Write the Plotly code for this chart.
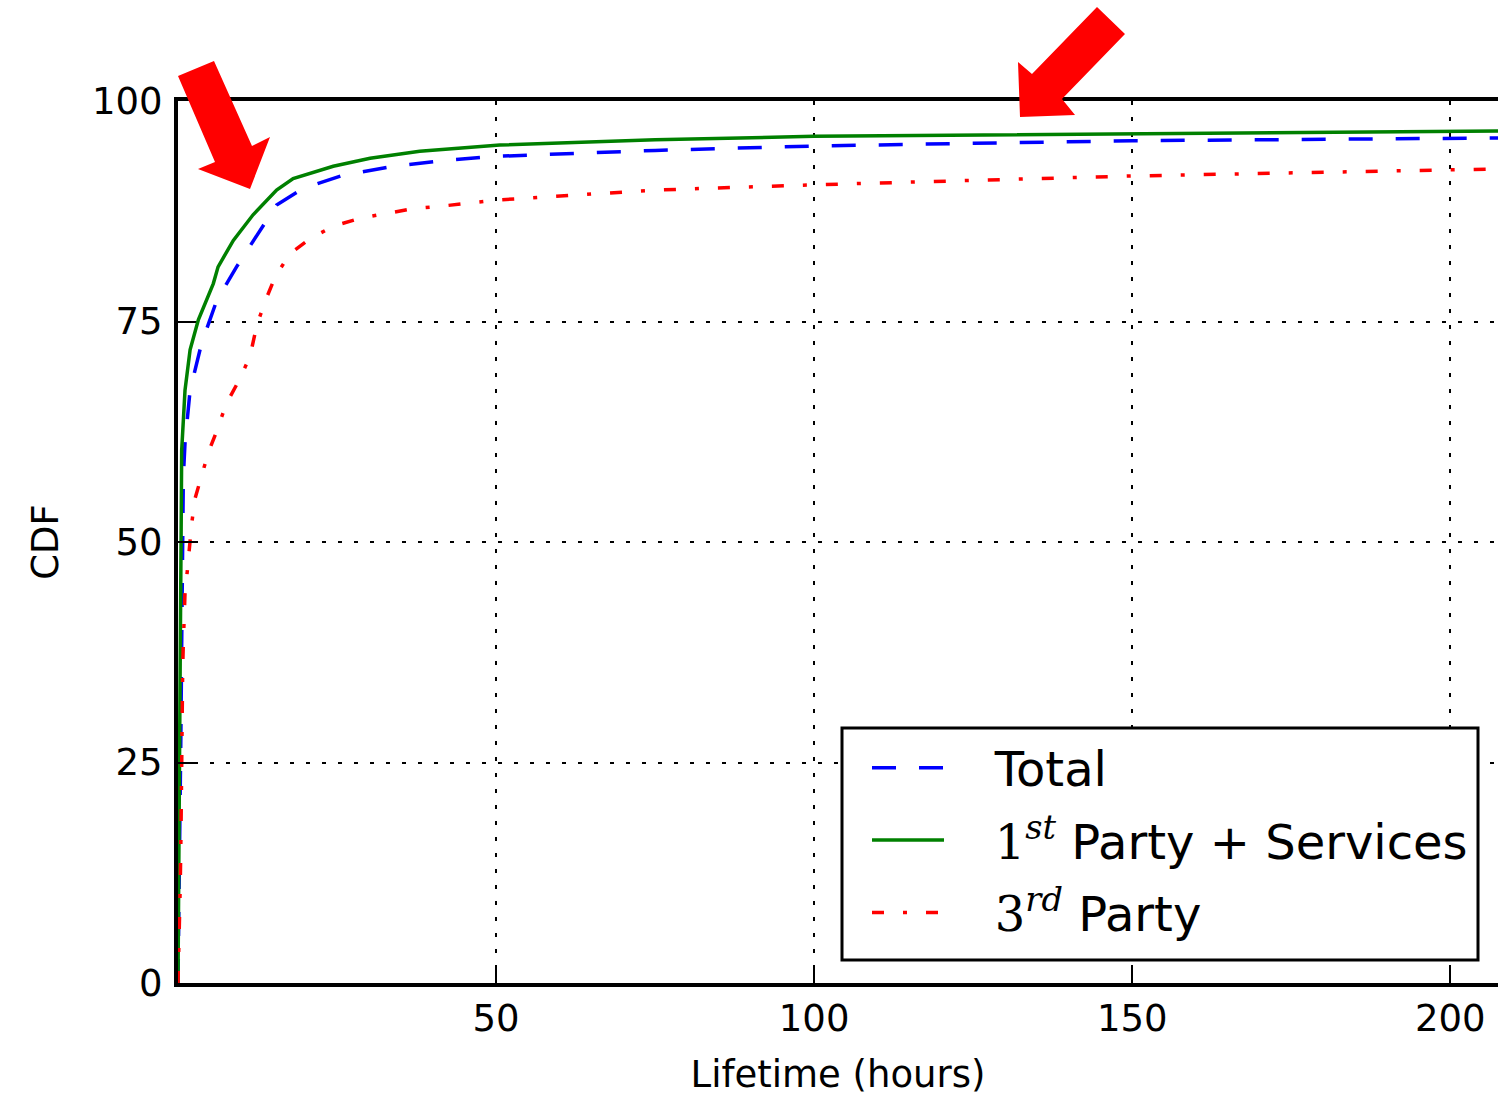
import plotly.graph_objects as go

# ---- data ----
total_x = [0, 0.15, 0.3, 0.45, 0.6, 0.74, 0.84, 1.1, 1.9, 3.7, 6.1, 9.2, 11.3, 13.9, 15.5, 19.7, 26, 33.9, 41.2, 49, 75, 100, 150, 207.5]
total_y = [0, 8, 18, 28, 40, 52.1, 57.4, 61.2, 67.2, 72.5, 77.4, 81.2, 83.5, 86.5, 88.2, 90.1, 91.6, 92.6, 93.2, 93.7, 94.4, 94.9, 95.5, 95.8]

first_x = [0, 0.1, 0.2, 0.3, 0.4, 0.5, 0.58, 1.1, 1.9, 3.2, 5.55, 6.3, 8.7, 11.8, 15.5, 18.1, 24.4, 30.2, 38, 50.6, 75, 100, 150, 207.5]
first_y = [0, 8, 20, 32, 42, 52, 60.4, 67.2, 71.8, 75.2, 79.3, 81.2, 84.2, 87.1, 89.9, 91.2, 92.6, 93.5, 94.3, 95.0, 95.6, 96.0, 96.3, 96.6]

third_x = [0, 0.2, 0.35, 0.47, 0.52, 0.58, 0.68, 0.74, 0.84, 0.94, 1.1, 1.46, 1.8, 2.15, 2.7, 3.7, 4.8, 6.1, 7.6, 9.5, 11.3, 12.4, 13.7, 15.3, 17.6, 20.8, 24.4, 28.6, 33.3, 37, 41.7, 50.6, 75, 100, 150, 207.5]
third_y = [0, 5, 11, 17, 22.3, 27.9, 33.2, 35.9, 38.5, 41.3, 44.2, 46.7, 49.5, 52.1, 55.0, 57.6, 60.2, 62.6, 65.7, 68.2, 71.0, 74.6, 77.3, 80.1, 82.7, 84.4, 85.8, 86.7, 87.3, 87.8, 88.1, 88.8, 89.9, 90.5, 91.5, 92.3]

x_ticks = [50, 100, 150, 200]
y_ticks = [0, 25, 50, 75, 100]

SP = "&nbsp;&nbsp;&nbsp;"
names = [
    SP + "Total",
    SP + "<span style='font-family:DejaVu Serif'>1</span><sup><i style='font-family:DejaVu Serif'>st</i></sup> Party + Services",
    SP + "<span style='font-family:DejaVu Serif'>3</span><sup><i style='font-family:DejaVu Serif'>rd</i></sup> Party",
]

W, H = 1498, 1096
L, T = 178, 101
PW, PH = 1320, 882
R = W - L - PW
B = H - T - PH

PLOT_LEFT, PLOT_BOTTOM = L, T + PH  # page pixel coordinates of the plot area


def px2paper(pts):
    return [((x - PLOT_LEFT) / PW, (PLOT_BOTTOM - y) / PH) for x, y in pts]


def path(pts):
    p = px2paper(pts)
    return "M " + " L ".join(f"{a:.5f},{b:.5f}" for a, b in p) + " Z"


arrow1 = [(178, 76), (214, 61), (252, 146), (270, 137), (250, 189), (198, 169), (215, 162)]
arrow2 = [(1097, 7), (1125, 34), (1062, 99), (1075, 115), (1020, 117), (1018, 62), (1032, 74)]
legend_box = (842, 728, 1478, 960)

fig = go.Figure()
fig.add_trace(go.Scatter(x=total_x, y=total_y, mode="lines", name=names[0], legendgroup="a",
                         line=dict(color="#0000ff", width=3.5, dash="24px,23px")))
fig.add_trace(go.Scatter(x=first_x, y=first_y, mode="lines", name=names[1], legendgroup="b",
                         line=dict(color="#008000", width=3.5)))
fig.add_trace(go.Scatter(x=third_x, y=third_y, mode="lines", name=names[2], legendgroup="c",
                         line=dict(color="#ff0000", width=3.5, dash="12px,19px,4px,19px")))

(bx0, by0), (bx1, by1) = px2paper([(legend_box[0], legend_box[3]), (legend_box[2], legend_box[1])])
lx, ly = px2paper([(867, 730)])[0]

font = "DejaVu Sans, Liberation Sans, sans-serif"
fig.update_layout(
    width=W, height=H,
    margin=dict(l=L, r=R, t=T, b=B),
    paper_bgcolor="white", plot_bgcolor="white",
    font=dict(family=font, size=37, color="black"),
    showlegend=True,
    legend=dict(
        x=lx, y=ly, xanchor="left", yanchor="top",
        bgcolor="rgba(0,0,0,0)", borderwidth=0,
        font=dict(size=48, family=font, color="black"),
        itemwidth=72, tracegroupgap=7,
    ),
    shapes=[
        dict(type="rect", xref="paper", yref="paper", x0=bx0, y0=by0, x1=bx1, y1=by1,
             fillcolor="white", line=dict(color="black", width=3), layer="above"),
        dict(type="path", xref="paper", yref="paper", path=path(arrow1),
             fillcolor="#ff0000", line=dict(width=0), layer="above"),
        dict(type="path", xref="paper", yref="paper", path=path(arrow2),
             fillcolor="#ff0000", line=dict(width=0), layer="above"),
    ],
)
fig.update_xaxes(
    range=[0, 207.5], tickvals=x_ticks, ticktext=[str(v) for v in x_ticks],
    showline=True, linecolor="black", linewidth=4, mirror=True,
    ticks="inside", ticklen=16, tickwidth=1.5, tickcolor="black",
    showgrid=True, gridcolor="black", gridwidth=1.5, griddash="4px,12px",
    zeroline=False,
    title=dict(text="Lifetime (hours)", font=dict(size=37), standoff=24),
)
fig.update_yaxes(
    range=[0, 100], tickvals=y_ticks, ticktext=[str(v) for v in y_ticks],
    showline=True, linecolor="black", linewidth=4, mirror=False,
    ticks="inside", ticklen=16, tickwidth=1.5, tickcolor="black",
    ticklabelstandoff=4,
    showgrid=True, gridcolor="black", gridwidth=1.5, griddash="4px,12px",
    zeroline=False,
    title=dict(text="CDF", font=dict(size=37), standoff=23),
)

fig.write_html(
    "out.html",
    config={"displayModeBar": False},
    post_script="document.body.style.margin='0';document.body.style.overflow='hidden';",
)
